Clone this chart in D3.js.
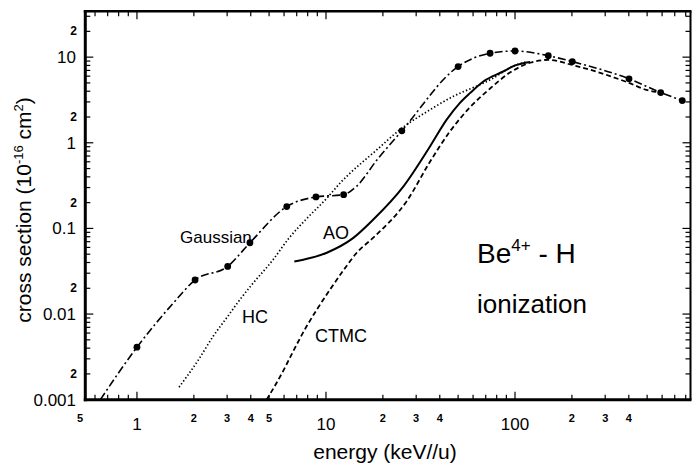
<!DOCTYPE html>
<html><head><meta charset="utf-8">
<script src="https://cdn.jsdelivr.net/npm/d3@7"></script>
<style>
body{margin:0;background:#fff}
text{font-family:Arial,"Liberation Sans",Helvetica,sans-serif;fill:#000}
</style>
</head><body>
<svg id="chart" width="692" height="465"></svg>
<script>
// ---- data (energy in keV/u, cross section in 1e-16 cm^2) ----
const gaussE = [0.64, 1.0, 1.56, 2.03, 3.02, 3.96, 6.2, 8.85, 12.4, 14.5, 18.6, 25.2, 50, 73.8, 100, 150, 201, 401, 590, 767];
const gaussS = [0.001, 0.0041, 0.0135, 0.025, 0.036, 0.068, 0.18, 0.233, 0.248, 0.31, 0.63, 1.38, 7.77, 11.1, 11.8, 10.4, 8.87, 5.58, 3.86, 3.11];
const gaussMarkE = [1.0, 2.03, 3.02, 3.96, 6.2, 8.85, 12.4, 25.2, 50, 73.8, 100, 150, 201, 401, 590, 767];
const gaussMarkS = [0.0041, 0.025, 0.036, 0.068, 0.18, 0.233, 0.248, 1.38, 7.77, 11.1, 11.8, 10.4, 8.87, 5.58, 3.86, 3.11];

const hcE = [1.67, 2.11, 2.53, 3.0, 3.51, 4.05, 5.2, 6.4, 7.9, 10.0, 11.9, 18.6, 24.6, 35.5, 45.2, 73.8, 100, 115];
const hcS = [0.0014, 0.0029, 0.0055, 0.0092, 0.0148, 0.022, 0.042, 0.078, 0.13, 0.22, 0.34, 0.83, 1.42, 2.43, 3.32, 5.43, 8.0, 8.8];

const aoE = [6.8, 10.1, 13.9, 17.8, 25.7, 35.5, 43.5, 51, 57.8, 68, 86.6, 100, 120];
const aoS = [0.041, 0.052, 0.077, 0.127, 0.31, 0.906, 1.86, 2.9, 3.8, 5.2, 6.8, 8.0, 8.8];

const ctmcE = [4.85, 5.96, 6.45, 7.9, 8.95, 10.5, 12.8, 14.5, 17.8, 26.8, 35.5, 45.2, 57.8, 73.8, 94, 120, 150, 201, 401, 495, 590];
const ctmcS = [0.001, 0.0022, 0.0031, 0.0072, 0.0113, 0.0193, 0.036, 0.0516, 0.078, 0.21, 0.6, 1.35, 2.6, 4.3, 6.6, 8.6, 9.3, 8.1, 5.0, 4.15, 3.86];

const xMajorLabels = [1, 10, 100];
const xMinorLabels = [0.5, 2, 3, 4, 5, 20, 30, 40, 200, 300, 400];
const yMajorLabels = [0.001, 0.01, 0.1, 1, 10];
const yMinorLabels = [0.002, 0.02, 0.2, 2, 20];

// ---- layout ----
const svg = d3.select("#chart");
const L = 85.3, R = 690.5, T = 11.3, B = 399.7;
const x = d3.scaleLog().domain([0.533, 848]).range([L, R]);
const y = d3.scaleLog().domain([0.001, 34.3]).range([B, T]);

svg.append("defs").append("clipPath").attr("id","clip")
  .append("rect").attr("x",L).attr("y",T-2).attr("width",R-L).attr("height",B-T+2);

// ticks
function logTicks(lo, hi){
  const out=[];
  for(let n=-4;n<=3;n++) for(let k=1;k<=9;k++){
    const v=+(k*Math.pow(10,n)).toPrecision(6);
    if(v>=lo && v<=hi) out.push({v, major:k===1});
  }
  return out;
}
const xt = logTicks(0.533, 848), yt = logTicks(0.001, 34.3);
const g = svg.append("g").attr("stroke","#000");
xt.forEach(t=>{
  const len = t.major?8:5;
  g.append("line").attr("x1",x(t.v)).attr("x2",x(t.v)).attr("y1",B).attr("y2",B-len).attr("stroke-width",1.2);
  g.append("line").attr("x1",x(t.v)).attr("x2",x(t.v)).attr("y1",T).attr("y2",T+len).attr("stroke-width",1.2);
});
yt.forEach(t=>{
  const len = t.major?8:5;
  g.append("line").attr("y1",y(t.v)).attr("y2",y(t.v)).attr("x1",L).attr("x2",L+len).attr("stroke-width",1.2);
  g.append("line").attr("y1",y(t.v)).attr("y2",y(t.v)).attr("x1",R).attr("x2",R-len).attr("stroke-width",1.2);
});
// frame
g.append("line").attr("x1",L).attr("x2",L).attr("y1",T-1).attr("y2",B+1.5).attr("stroke-width",3);
g.append("line").attr("x1",L-1.5).attr("x2",R+1).attr("y1",B).attr("y2",B).attr("stroke-width",3);
g.append("line").attr("x1",L-1.5).attr("x2",R+1).attr("y1",T).attr("y2",T).attr("stroke-width",2.5);
g.append("line").attr("x1",R).attr("x2",R).attr("y1",T).attr("y2",B).attr("stroke-width",2);

// tick labels
xMajorLabels.forEach(v=>svg.append("text").attr("x",x(v)).attr("y",430).attr("text-anchor","middle")
  .attr("font-size",17).text(d3.format("~g")(v)));
xMinorLabels.forEach(v=>svg.append("text").attr("x",x(v)).attr("y",422).attr("text-anchor","middle")
  .attr("font-size",11).attr("font-weight","bold").text(String(v).replace(/0+$/,"").replace(/^0\./,"").replace(/\.$/,"")));
yMajorLabels.forEach(v=>svg.append("text").attr("x",76).attr("y",y(v)+6).attr("text-anchor","end")
  .attr("font-size",17).text(String(v)));
yMinorLabels.forEach(v=>svg.append("text").attr("x",77).attr("y",y(v)+4).attr("text-anchor","end")
  .attr("font-size",12).attr("font-weight","bold").text("2"));

// axis titles
svg.append("text").attr("x",385).attr("y",459).attr("text-anchor","middle").attr("font-size",21)
  .text("energy (keV//u)");
const yt2 = svg.append("text").attr("transform","translate(31,210) rotate(-90)").attr("text-anchor","middle").attr("font-size",21);
yt2.append("tspan").text("cross section (10");
yt2.append("tspan").attr("font-size",13).attr("dy",-8).text("-16");
yt2.append("tspan").attr("dy",8).text(" cm");
yt2.append("tspan").attr("font-size",13).attr("dy",-8).text("2");
yt2.append("tspan").attr("dy",8).text(")");

// curves
const lineGen = d3.line().x(d=>x(d[0])).y(d=>y(d[1])).curve(d3.curveMonotoneX);
const plot = svg.append("g").attr("clip-path","url(#clip)").attr("fill","none").attr("stroke","#000");
plot.append("path").attr("d",lineGen(d3.zip(hcE,hcS))).attr("stroke-width",1.7).attr("stroke-dasharray","1.4,2.2");
plot.append("path").attr("d",lineGen(d3.zip(ctmcE,ctmcS))).attr("stroke-width",1.8).attr("stroke-dasharray","5,3");
plot.append("path").attr("d",lineGen(d3.zip(aoE,aoS))).attr("stroke-width",2);
plot.append("path").attr("d",lineGen(d3.zip(gaussE,gaussS))).attr("stroke-width",1.6).attr("stroke-dasharray","8,3,2,3");
svg.append("g").selectAll("circle").data(d3.zip(gaussMarkE,gaussMarkS)).join("circle")
  .attr("cx",d=>x(d[0])).attr("cy",d=>y(d[1])).attr("r",3.4).attr("fill","#000");

// labels
svg.append("text").attr("x",180).attr("y",243).attr("font-size",17).text("Gaussian");
svg.append("text").attr("x",242).attr("y",323).attr("font-size",18).text("HC");
svg.append("text").attr("x",323).attr("y",239).attr("font-size",18).text("AO");
svg.append("text").attr("x",315).attr("y",341.5).attr("font-size",18).text("CTMC");
const be = svg.append("text").attr("x",477).attr("y",263).attr("font-size",28);
be.append("tspan").text("Be");
be.append("tspan").attr("font-size",17).attr("dy",-12).text("4+");
be.append("tspan").attr("dy",12).text(" - H");
svg.append("text").attr("x",477).attr("y",313).attr("font-size",26).text("ionization");
</script>
</body></html>
